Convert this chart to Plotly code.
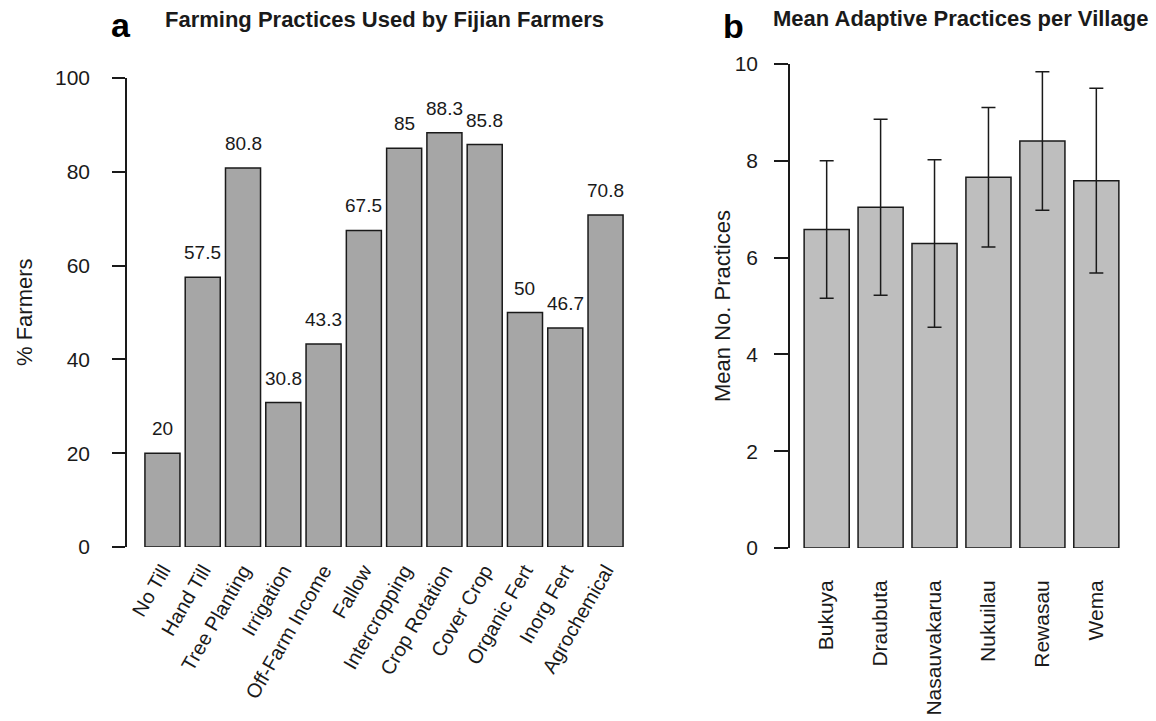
import plotly.graph_objects as go

W, H = 1156, 721

# Panel a: share of farmers using each practice (%)
practices = ["No Till", "Hand Till", "Tree Planting", "Irrigation", "Off-Farm Income",
             "Fallow", "Intercropping", "Crop Rotation", "Cover Crop", "Organic Fert",
             "Inorg Fert", "Agrochemical"]
pct_farmers = [20, 57.5, 80.8, 30.8, 43.3, 67.5, 85, 88.3, 85.8, 50, 46.7, 70.8]
pct_labels = ["20", "57.5", "80.8", "30.8", "43.3", "67.5", "85", "88.3", "85.8", "50", "46.7", "70.8"]
pct_ticks = [0, 20, 40, 60, 80, 100]

# Panel b: mean number of adaptive practices per village, with error bars
villages = ["Bukuya", "Draubuta", "Nasauvakarua", "Nukuilau", "Rewasau", "Wema"]
mean_practices = [6.58, 7.04, 6.29, 7.66, 8.41, 7.59]
err_practices = [1.42, 1.82, 1.73, 1.44, 1.43, 1.91]
mean_ticks = [0, 2, 4, 6, 8, 10]

FONT = "Liberation Sans, Arial, sans-serif"
INK = "#1a1a1a"


def px_x(p):
    return p / W


def px_y(p):
    return 1 - p / H


fig = go.Figure()

fig.add_trace(go.Bar(
    x=list(range(len(practices))), y=pct_farmers, width=0.87,
    marker=dict(color="#a6a6a6", line=dict(color=INK, width=1.5)),
    xaxis="x", yaxis="y", showlegend=False, hoverinfo="skip",
))

fig.add_trace(go.Bar(
    x=list(range(len(villages))), y=mean_practices, width=0.836,
    marker=dict(color="#bebebe", line=dict(color=INK, width=1.5)),
    error_y=dict(type="data", array=err_practices, visible=True,
                 color=INK, thickness=1.5, width=7),
    xaxis="x2", yaxis="y2", showlegend=False, hoverinfo="skip",
))

annotations = []
for i, (v, lab) in enumerate(zip(pct_farmers, pct_labels)):
    annotations.append(dict(x=i, y=v, xref="x", yref="y", text=lab, showarrow=False,
                            xanchor="center", yanchor="bottom", yshift=12,
                            font=dict(family=FONT, size=19, color=INK)))


def paper_text(x, y, text, size, angle=0, color=INK):
    return dict(x=px_x(x), y=px_y(y), xref="paper", yref="paper", showarrow=False,
                text=text, textangle=angle, xanchor="center", yanchor="middle",
                font=dict(family=FONT, size=size, color=color))


# panel titles, letters and axis titles
annotations += [
    paper_text(384, 20, "<b>Farming Practices Used by Fijian Farmers</b>", 22),
    paper_text(121, 25, "<b>a</b>", 34, color="black"),
    paper_text(960, 19, "<b>Mean Adaptive Practices per Village</b>", 22),
    paper_text(733, 26, "<b>b</b>", 34, color="black"),
    paper_text(24, 312, "% Farmers", 22, angle=-90),
    paper_text(722, 306, "Mean No. Practices", 22, angle=-90),
]

tickfont = dict(family=FONT, size=21, color=INK)

fig.update_layout(
    width=W, height=H,
    margin=dict(l=0, r=0, t=0, b=0, autoexpand=False),
    paper_bgcolor="white", plot_bgcolor="white",
    annotations=annotations,
    xaxis=dict(domain=[px_x(127), px_x(641)], range=[-0.88, 11.88], automargin=False,
               tickmode="array", tickvals=list(range(len(practices))), ticktext=practices,
               tickangle=-60, ticks="", showline=False, showgrid=False, zeroline=False,
               ticklabelstandoff=7, tickfont=dict(family=FONT, size=20, color=INK)),
    yaxis=dict(domain=[px_y(547), px_y(78)], range=[0, 100], automargin=False,
               tickmode="array", tickvals=pct_ticks,
               ticks="outside", ticklen=13, tickwidth=1.5, tickcolor=INK,
               showline=True, linecolor=INK, linewidth=1.5,
               showgrid=False, zeroline=False, ticklabelstandoff=18, tickfont=tickfont),
    xaxis2=dict(domain=[px_x(790), px_x(1133)], range=[-0.68, 5.68], anchor="y2",
                automargin=False,
                tickmode="array", tickvals=list(range(len(villages))), ticktext=villages,
                tickangle=-90, ticks="", showline=False, showgrid=False, zeroline=False,
                ticklabelstandoff=27, tickfont=tickfont),
    yaxis2=dict(domain=[px_y(548), px_y(64)], range=[0, 10], anchor="x2",
                automargin=False,
                tickmode="array", tickvals=mean_ticks,
                ticks="outside", ticklen=14, tickwidth=1.5, tickcolor=INK,
                showline=True, linecolor=INK, linewidth=1.5,
                showgrid=False, zeroline=False, ticklabelstandoff=12, tickfont=tickfont),
)

fig.write_html("out.html")
